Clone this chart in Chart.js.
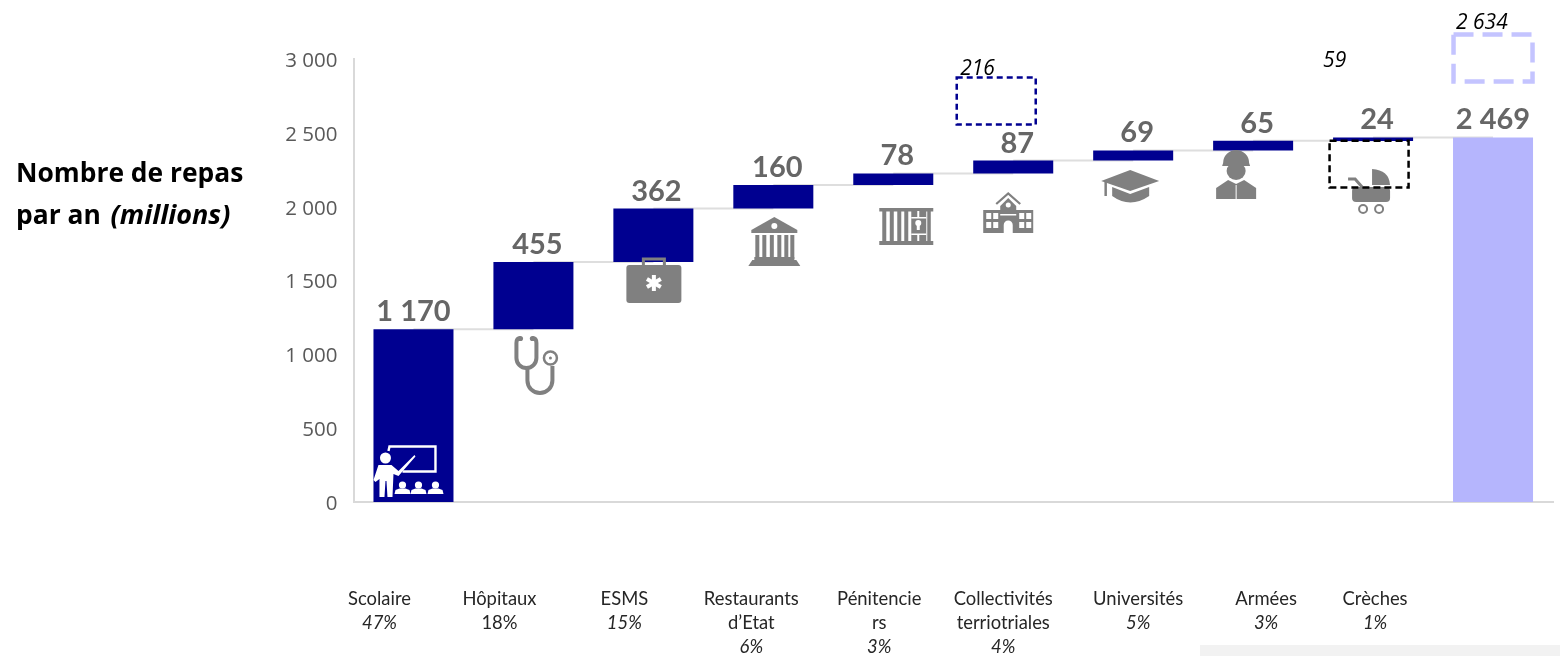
<!DOCTYPE html>
<html>
<head>
<meta charset="utf-8">
<title>Nombre de repas par an</title>
<script src="https://cdn.jsdelivr.net/npm/chart.js@4/dist/chart.umd.min.js"></script>
<style>
html, body { margin: 0; padding: 0; background: #fff; }
canvas { display: block; }
</style>
</head>
<body>
<canvas id="chart" width="1560" height="656"></canvas>
<script>
// data
const categories = ['Scolaire', 'Hôpitaux', 'ESMS', 'Restaurants', 'Pénitencie', 'Collectivités', 'Universités', 'Armées', 'Crèches', ''];
const secondLines = ['', '', '', 'd’Etat', 'rs', 'terriotriales', '', '', '', ''];
const percents = ['47%', '18%', '15%', '6%', '3%', '4%', '5%', '3%', '1%', ''];
const percentItalic = [true, false, true, true, true, true, true, true, true, false];
const barValues = [1170, 455, 362, 160, 78, 87, 69, 65, 24, 2469];
const barBases = [0, 1170, 1625, 1987, 2147, 2225, 2312, 2381, 2445, 0];
const barLabels = ['1 170', '455', '362', '160', '78', '87', '69', '65', '24', '2 469'];
const yTicks = [0, 500, 1000, 1500, 2000, 2500, 3000];

// dashed boxes and the small italic numbers above them
const boxCategories = [5, 8, 9];
const boxLows = [2556, 2130, 2847];
const boxHighs = [2875, 2447, 3166];
const noteCategories = [5, 8, 9];
const noteLabels = ['216', '59', '2 634'];
const noteValues = [2890, 2946, 3203];

// styles and offsets
const FONT = '"Open Sans"';
const LABEL_FONT = 'Lato';
const NAVY = '#000090';
const LILAC = '#b5b5fd';
const ICON_GREY = '#808080';
const labelDx = [-34, -34, -29, -22, -14, -10, 5, 13, 2, 0];
const valueDx = [0, 4, 3, 4, 4, 4, 4, 4, 4, 0];
const noteDx = [-53, -50, -37];
const boxDx = [-17, -4, 0];
const boxStyle = [
  { color: NAVY, width: 2.5, dash: [6, 4] },
  { color: '#000', width: 2.5, dash: [7, 4] },
  { color: '#c4c4ff', width: 4.5, dash: [20, 9] }
];

const bars = barValues.map((v, i) => [barBases[i], barBases[i] + v]);

function asTick(v) {
  return String(v).replace(/\B(?=(\d{3})+$)/g, ' ');
}

function poly(ctx, pts) {
  ctx.beginPath();
  pts.forEach((p, i) => i ? ctx.lineTo(p[0], p[1]) : ctx.moveTo(p[0], p[1]));
  ctx.closePath();
  ctx.fill();
}
function dot(ctx, x, y, r) {
  ctx.beginPath();
  ctx.arc(x, y, r, 0, Math.PI * 2);
  ctx.fill();
}

// pictograms, each one drawn from its own top left corner
const icons = [
  function teacher(ctx) {
    ctx.fillStyle = ctx.strokeStyle = '#fff';
    ctx.lineWidth = 2.4;
    ctx.beginPath();
    ctx.moveTo(15, 6); ctx.lineTo(16, 1.5); ctx.lineTo(62, 1.5); ctx.lineTo(62, 26.5); ctx.lineTo(29, 26.5);
    ctx.stroke();
    dot(ctx, 12, 13, 5.5);
    poly(ctx, [[5, 20], [18, 20], [25, 26], [41, 10], [42, 11.5], [25, 31], [20, 29], [19, 52], [14, 52], [13, 36], [12, 36], [11, 52], [6, 52], [6, 34], [2, 37], [0, 35]]);
    [29, 45, 62].forEach(x => {
      dot(ctx, x, 40, 3.6);
      poly(ctx, [[x - 8, 49], [x - 7, 45], [x - 3, 43.5], [x + 3, 43.5], [x + 7, 45], [x + 8, 49]]);
    });
  },
  function stethoscope(ctx) {
    ctx.strokeStyle = ctx.fillStyle = ICON_GREY;
    ctx.lineWidth = 4;
    ctx.beginPath();
    ctx.moveTo(8, 2);
    ctx.quadraticCurveTo(4, 2, 4, 7);
    ctx.lineTo(4, 20);
    ctx.arc(14, 22, 10, Math.PI, 0, true);
    ctx.lineTo(24, 7);
    ctx.quadraticCurveTo(24, 2, 20, 2);
    ctx.stroke();
    ctx.beginPath();
    ctx.moveTo(15, 32);
    ctx.lineTo(15, 44);
    ctx.arc(27.5, 44.5, 12.5, Math.PI, 0, true);
    ctx.lineTo(40, 30);
    ctx.stroke();
    ctx.lineWidth = 2.5;
    ctx.beginPath();
    ctx.arc(38, 22, 6.5, 0, Math.PI * 2);
    ctx.stroke();
    dot(ctx, 38, 22, 1.5);
    dot(ctx, 8, 2.5, 2.6);
    dot(ctx, 20, 2.5, 2.6);
  },
  function bag(ctx) {
    ctx.strokeStyle = ctx.fillStyle = ICON_GREY;
    ctx.lineWidth = 3;
    ctx.beginPath();
    ctx.moveTo(17, 9); ctx.lineTo(17, 2); ctx.lineTo(38, 2); ctx.lineTo(38, 9);
    ctx.stroke();
    ctx.beginPath();
    ctx.roundRect(0, 8, 55, 38, 3);
    ctx.fill();
    ctx.strokeStyle = '#fff';
    ctx.lineWidth = 4;
    for (let k = 0; k < 3; k++) {
      const a = Math.PI / 2 + k * Math.PI / 3;
      ctx.beginPath();
      ctx.moveTo(27.5 - 8 * Math.cos(a), 26 - 8 * Math.sin(a));
      ctx.lineTo(27.5 + 8 * Math.cos(a), 26 + 8 * Math.sin(a));
      ctx.stroke();
    }
  },
  function bank(ctx) {
    ctx.fillStyle = ICON_GREY;
    poly(ctx, [[26, 0], [49, 13], [49, 16], [3, 16], [3, 13]]);
    [8, 15, 22.5, 30, 37, 43].forEach(x => ctx.fillRect(x - 1, 18, 4, 24));
    ctx.fillRect(6, 40, 40, 3);
    poly(ctx, [[4, 43], [48, 43], [52, 49], [0, 49]]);
    ctx.fillStyle = '#fff';
    dot(ctx, 26, 9, 3);
  },
  function prison(ctx) {
    ctx.fillStyle = ICON_GREY;
    ctx.fillRect(0, 0, 54, 3.5);
    ctx.fillRect(0, 33, 54, 4);
    [3, 10.5, 18, 25].forEach(x => ctx.fillRect(x, 3, 4, 30));
    ctx.fillRect(32, 3, 15, 30);
    ctx.fillRect(48, 3, 3.5, 30);
    ctx.fillStyle = '#fff';
    ctx.fillRect(38, 3, 2, 6);
    ctx.fillRect(38, 27, 2, 6);
    ctx.fillRect(32, 9, 15, 1.5);
    ctx.fillRect(32, 25.5, 15, 1.5);
    dot(ctx, 39, 15, 3);
    ctx.fillRect(37.5, 15, 3, 7);
  },
  function school(ctx) {
    ctx.strokeStyle = ctx.fillStyle = ICON_GREY;
    ctx.lineWidth = 2.2;
    ctx.beginPath();
    ctx.moveTo(13, 12); ctx.lineTo(25, 1.5); ctx.lineTo(37, 12);
    ctx.stroke();
    poly(ctx, [[25, 6], [33, 14], [33, 18], [50, 18], [50, 41], [0, 41], [0, 18], [17, 18], [17, 14]]);
    ctx.fillStyle = '#fff';
    dot(ctx, 25, 13, 2.5);
    ctx.fillRect(17, 22, 16, 1.5);
    [3, 10, 36, 43].forEach(x => {
      ctx.fillRect(x, 21, 5, 6);
      ctx.fillRect(x, 30, 5, 6);
    });
    ctx.beginPath();
    ctx.arc(25, 33, 4.5, Math.PI, 0);
    ctx.rect(20.5, 33, 9, 8);
    ctx.fill();
  },
  function cap(ctx) {
    ctx.fillStyle = ctx.strokeStyle = ICON_GREY;
    poly(ctx, [[29, 0], [58, 11], [29, 21], [0, 11]]);
    ctx.lineWidth = 2.5;
    ctx.beginPath();
    ctx.moveTo(4.5, 12); ctx.lineTo(4.5, 26);
    ctx.stroke();
    ctx.beginPath();
    ctx.moveTo(11, 17); ctx.lineTo(29, 24); ctx.lineTo(48, 17); ctx.lineTo(48, 26);
    ctx.quadraticCurveTo(29, 39, 11, 26);
    ctx.closePath();
    ctx.fill();
  },
  function soldier(ctx) {
    ctx.fillStyle = ICON_GREY;
    ctx.beginPath();
    ctx.arc(20, 13, 13, Math.PI, 0);
    ctx.lineTo(34, 16);
    ctx.lineTo(6, 16);
    ctx.closePath();
    ctx.fill();
    ctx.beginPath();
    ctx.ellipse(20, 21, 9.5, 9, 0, 0, Math.PI * 2);
    ctx.fill();
    poly(ctx, [[0, 49], [0, 38], [12, 30], [20, 34], [28, 30], [40, 38], [40, 49]]);
    ctx.fillStyle = '#fff';
    ctx.fillRect(19.5, 35, 1, 14);
  },
  function stroller(ctx) {
    ctx.fillStyle = ctx.strokeStyle = ICON_GREY;
    ctx.beginPath();
    ctx.moveTo(24, 0);
    ctx.quadraticCurveTo(41, 1, 42, 16);
    ctx.lineTo(24, 16);
    ctx.closePath();
    ctx.fill();
    ctx.lineWidth = 3;
    ctx.beginPath();
    ctx.moveTo(0, 10); ctx.lineTo(7, 10); ctx.lineTo(14, 18);
    ctx.stroke();
    ctx.beginPath();
    ctx.roundRect(4, 18, 38, 15, 4);
    ctx.fill();
    ctx.lineWidth = 2;
    [15, 31].forEach(x => {
      ctx.beginPath();
      ctx.arc(x, 40, 4, 0, Math.PI * 2);
      ctx.stroke();
    });
  }
];
const iconDx = [-40, -21, -27, -25, -14, -30, -32, -37, -25];
const iconY = [445, 336, 257, 217, 208, 192, 170, 150, 169];

const waterfallParts = {
  id: 'waterfallParts',
  beforeDraw(chart) {
    const ctx = chart.ctx;
    ctx.fillStyle = '#f2f2f2';
    ctx.fillRect(1200, 645, 360, 11);
  },
  beforeDatasetsDraw(chart) {
    // connectors between the bars
    const ctx = chart.ctx, x = chart.scales.x, y = chart.scales.y;
    ctx.save();
    ctx.strokeStyle = '#dedede';
    ctx.lineWidth = 2;
    for (let i = 0; i < bars.length - 1; i++) {
      const level = y.getPixelForValue(bars[i][1]);
      ctx.beginPath();
      ctx.moveTo(x.getPixelForValue(i), level);
      ctx.lineTo(x.getPixelForValue(i + 1), level);
      ctx.stroke();
    }
    ctx.restore();
  },
  afterDatasetsDraw(chart) {
    const ctx = chart.ctx, x = chart.scales.x, y = chart.scales.y;

    icons.forEach((draw, i) => {
      ctx.save();
      ctx.translate(x.getPixelForValue(i) + iconDx[i], iconY[i]);
      draw(ctx);
      ctx.restore();
    });

    // dashed boxes
    boxCategories.forEach((cat, i) => {
      const mid = x.getPixelForValue(cat) + boxDx[i];
      const top = y.getPixelForValue(boxHighs[i]), bottom = y.getPixelForValue(boxLows[i]);
      ctx.save();
      ctx.strokeStyle = boxStyle[i].color;
      ctx.lineWidth = boxStyle[i].width;
      ctx.setLineDash(boxStyle[i].dash);
      ctx.strokeRect(mid - 39.5, top, 79, bottom - top);
      ctx.restore();
    });

    ctx.save();
    ctx.textBaseline = 'alphabetic';

    // values above the bars
    ctx.textAlign = 'center';
    ctx.fillStyle = '#666';
    ctx.font = 'bold 29px ' + LABEL_FONT;
    barLabels.forEach((t, i) => {
      ctx.fillText(t, x.getPixelForValue(i) + valueDx[i], y.getPixelForValue(bars[i][1]) - 8);
    });

    // italic notes
    ctx.textAlign = 'left';
    ctx.fillStyle = '#000';
    ctx.font = 'italic 21px ' + FONT;
    noteLabels.forEach((t, i) => {
      ctx.fillText(t, x.getPixelForValue(noteCategories[i]) + noteDx[i], y.getPixelForValue(noteValues[i]));
    });

    // category labels under the axis
    ctx.textAlign = 'center';
    ctx.fillStyle = '#262626';
    categories.forEach((name, i) => {
      const cx = x.getPixelForValue(i) + labelDx[i];
      const lines = [name];
      if (secondLines[i]) lines.push(secondLines[i]);
      ctx.font = '18.4px ' + LABEL_FONT;
      lines.forEach((l, k) => ctx.fillText(l, cx, 605 + k * 24));
      ctx.font = (percentItalic[i] ? 'italic ' : '') + '18.4px ' + LABEL_FONT;
      ctx.fillText(percents[i], cx, 605 + lines.length * 24);
    });

    // title on the left
    ctx.textAlign = 'left';
    ctx.fillStyle = '#000';
    ctx.font = 'bold 26.4px ' + FONT;
    ctx.fillText('Nombre de repas', 16, 182);
    ctx.fillText('par an ', 16, 224);
    const w = ctx.measureText('par an ').width;
    ctx.font = 'italic bold 27px ' + FONT;
    ctx.fillText('(millions)', 19 + w, 224);
    ctx.restore();
  }
};

new Chart(document.getElementById('chart'), {
  type: 'bar',
  data: {
    labels: categories,
    datasets: [{
      label: 'Nombre de repas par an (millions)',
      data: bars,
      backgroundColor: barValues.map((v, i) => i === barValues.length - 1 ? LILAC : NAVY),
      borderSkipped: false,
      barPercentage: 0.667,
      categoryPercentage: 1
    }]
  },
  options: {
    responsive: false,
    animation: false,
    layout: { padding: { top: 59, right: 7, left: 0, bottom: 0 } },
    plugins: { legend: { display: false }, tooltip: { enabled: false } },
    scales: {
      x: {
        grid: { display: false, drawTicks: false },
        border: { color: '#d9d9d9', width: 2 },
        ticks: { display: false },
        afterFit(scale) { scale.height = 154; }
      },
      y: {
        min: 0,
        max: 3000,
        afterBuildTicks(scale) { scale.ticks = yTicks.map(v => ({ value: v })); },
        grid: { display: false, drawTicks: false },
        border: { color: '#d9d9d9', width: 2 },
        ticks: {
          padding: 16,
          labelOffset: 2,
          color: '#595959',
          font: { family: 'Open Sans', size: 20.5 },
          callback: asTick
        },
        afterFit(scale) { scale.width = 353.5; }
      }
    }
  },
  plugins: [waterfallParts]
});
</script>
</body>
</html>
